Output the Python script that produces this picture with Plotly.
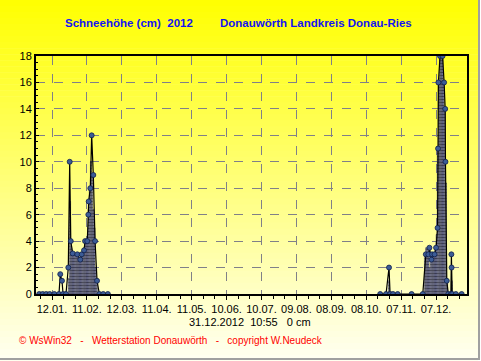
import plotly.graph_objects as go

# ---------------- data ----------------
line_times = [
    "2012-01-01", "2012-01-04", "2012-01-07", "2012-01-10", "2012-01-14", "2012-01-18",
    "2012-01-19 02:00", "2012-01-20 14:00", "2012-01-21 12:00", "2012-01-24",
    "2012-01-26 00:00", "2012-01-27 05:00", "2012-01-28 03:00", "2012-01-29 19:00",
    "2012-02-02 17:00", "2012-02-05 07:00", "2012-02-06 12:00", "2012-02-08 12:00",
    "2012-02-09 10:00", "2012-02-11 07:00", "2012-02-12 05:00", "2012-02-12 12:00",
    "2012-02-13 22:00", "2012-02-15 02:00", "2012-02-16 12:00", "2012-02-18 00:00",
    "2012-02-19 17:00", "2012-02-21 17:00", "2012-02-25", "2012-02-29",
    None,
    "2012-10-20", "2012-10-25", "2012-10-27 14:00", "2012-10-28 12:00", "2012-10-31",
    "2012-11-04", "2012-11-16", "2012-11-25 14:00",
    "2012-11-28 05:00", "2012-11-30 10:00", "2012-12-01 07:00", "2012-12-03 00:00",
    "2012-12-03 14:00", "2012-12-05 17:00", "2012-12-07 00:00", "2012-12-08 07:00",
    "2012-12-08 17:00", "2012-12-09 00:00", "2012-12-10 10:00", "2012-12-12 14:00",
    "2012-12-13 22:00", "2012-12-14 20:00", "2012-12-15 02:00", "2012-12-16 05:00",
    "2012-12-17 12:00", "2012-12-19 18:00", "2012-12-20 04:00", "2012-12-20 08:00",
    "2012-12-20 20:00", "2012-12-24", "2012-12-29",
]
line_values = [
    0, 0, 0, 0, 0, 0,
    1.5, 1.0, 0, 0,
    2.0, 10.0, 4.0, 3.07,
    3.0, 2.6, 3.0, 3.3,
    4.0, 4.0, 6.0, 7.0,
    8.0, 12.0, 9.0, 4.0,
    1.0, 0, 0, 0,
    None,
    0, 0, 2.0, 0, 0,
    0, 0, 0,
    3.0, 3.0, 3.5, 2.6,
    3.0, 3.0, 3.5, 5.0,
    11.0, 16.0, 18.0, 18.0,
    16.0, 14.0, 10.0, 1.0,
    0, 0, 3.0, 2.0,
    0, 0, 0,
]

bar_dates = [
    "2012-01-26", "2012-01-27", "2012-01-28", "2012-01-29", "2012-01-30", "2012-01-31",
    "2012-02-01", "2012-02-02", "2012-02-03", "2012-02-04", "2012-02-05", "2012-02-06",
    "2012-02-07", "2012-02-08", "2012-02-09", "2012-02-10", "2012-02-11", "2012-02-12",
    "2012-02-13", "2012-02-14", "2012-02-15", "2012-02-16", "2012-02-17", "2012-02-18",
    "2012-02-19",
    "2012-10-27",
    "2012-11-27", "2012-11-28", "2012-11-29", "2012-11-30", "2012-12-01", "2012-12-02",
    "2012-12-03", "2012-12-04", "2012-12-05", "2012-12-06", "2012-12-07", "2012-12-08",
    "2012-12-09", "2012-12-10", "2012-12-11", "2012-12-12", "2012-12-13", "2012-12-14",
    "2012-12-15", "2012-12-16", "2012-12-20",
]
bar_values = [
    1.2, 7.0, 3.5, 3.2, 3.0, 3.0,
    3.0, 3.0, 2.8, 2.6, 2.6, 3.0,
    3.2, 3.5, 4.0, 4.0, 4.0, 6.4,
    8.0, 10.0, 9.0, 6.4, 5.0, 2.0,
    1.0,
    1.0,
    3.0, 3.5, 3.5, 3.0, 2.0, 2.5,
    3.0, 3.0, 3.0, 3.5, 4.5, 11.0,
    16.0, 18.0, 18.0, 18.0, 16.0, 14.0,
    8.4, 1.0, 1.0,
]

tick_dates = ["2012-01-12", "2012-02-11", "2012-03-12", "2012-04-11", "2012-05-11",
              "2012-06-10", "2012-07-10", "2012-08-09", "2012-09-08", "2012-10-08",
              "2012-11-07", "2012-12-07"]
y_ticks = [0, 2, 4, 6, 8, 10, 12, 14, 16, 18]

title_left = "Schneehöhe (cm)\u00a0 2012"
title_right = "Donauwörth Landkreis Donau-Ries"
status_text = "31.12.2012\u00a0\u00a010:55\u00a0\u00a0\u00a00 cm"
footer_text = ("© WsWin32\u00a0\u00a0\u00a0-\u00a0\u00a0\u00a0Wetterstation Donauwörth"
               "\u00a0\u00a0\u00a0-\u00a0\u00a0\u00a0copyright W.Neudeck")

# ---------------- layout geometry ----------------
W, H = 481, 361
L, R, T, B = 36, 14, 56, 67
pw, ph = W - L - R, H - T - B


def px(x):
    return (x - L) / pw


def py(y):
    return (H - B - y) / ph


FONT = "Liberation Sans, Arial, sans-serif"

fig = go.Figure()

fig.add_trace(go.Bar(
    x=bar_dates, y=bar_values,
    xperiod=86400000, xperiodalignment="middle",
    width=86400000,
    marker=dict(color="#a0a4c4",
                line=dict(width=0.4, color="#202040"),
                pattern=dict(shape="-", fgcolor="#000000", size=3, solidity=0.45)),
    hoverinfo="skip", showlegend=False,
))

fig.add_trace(go.Scatter(
    x=line_times, y=line_values, mode="lines+markers",
    line=dict(color="#000000", width=1.2),
    marker=dict(symbol="circle", size=5, color="#3c5c96",
                line=dict(color="#10204a", width=0.8)),
    connectgaps=False, showlegend=False,
))

# gradient background (yellow -> pale)
shapes = []
n = 60
for i in range(n):
    y0 = i * H / n
    y1 = (i + 1) * H / n + 0.6
    f = (i + 0.5) / n
    b = int(round(0 + 242 * f))
    shapes.append(dict(type="rect", xref="paper", yref="paper", layer="below",
                       x0=px(0), x1=px(478), y0=py(y1), y1=py(y0),
                       fillcolor=f"rgb(255,255,{b})", line=dict(width=0)))
# grey border right & bottom
shapes.append(dict(type="line", xref="paper", yref="paper", layer="below",
                   x0=px(479), x1=px(479), y0=py(0), y1=py(359),
                   line=dict(color="#a0a0a0", width=2)))
shapes.append(dict(type="line", xref="paper", yref="paper", layer="below",
                   x0=px(0), x1=px(480), y0=py(359), y1=py(359),
                   line=dict(color="#a0a0a0", width=2)))

annotations = [
    dict(text=f"<b>{title_left}</b>", xref="paper", yref="paper", x=px(63), y=py(23),
         xanchor="left", yanchor="middle", showarrow=False,
         font=dict(family=FONT, size=11.5, color="#1414f0")),
    dict(text=f"<b>{title_right}</b>", xref="paper", yref="paper", x=px(218), y=py(23),
         xanchor="left", yanchor="middle", showarrow=False,
         font=dict(family=FONT, size=11.5, color="#1414f0")),
    dict(text=status_text, xref="paper", yref="paper", x=px(250), y=py(322),
         xanchor="center", yanchor="middle", showarrow=False,
         font=dict(family=FONT, size=11, color="#000000")),
    dict(text=footer_text, xref="paper", yref="paper", x=px(17), y=py(340),
         xanchor="left", yanchor="middle", showarrow=False,
         font=dict(family=FONT, size=10, color="#ff0000")),
]

fig.update_layout(
    width=W, height=H,
    margin=dict(l=L, r=R, t=T, b=B, pad=0),
    paper_bgcolor="#ffffff", plot_bgcolor="rgba(0,0,0,0)",
    bargap=0, barmode="overlay",
    shapes=shapes, annotations=annotations,
    font=dict(family=FONT, size=11, color="#000000"),
    xaxis=dict(
        type="date", range=["2011-12-29 06:00", "2013-01-02 14:00"],
        tickvals=tick_dates, tickformat="%d.%m.",
        showgrid=True, gridcolor="#808088", gridwidth=1, griddash="dash",
        showline=True, linecolor="#000000", linewidth=2, mirror=True,
        ticks="outside", ticklen=4, tickcolor="#000000",
        minor=dict(ticks="outside", ticklen=3, tickcolor="#000000",
                   dtick=10 * 86400000, tick0="2012-01-02", showgrid=False),
        tickfont=dict(family=FONT, size=11, color="#000000"),
        zeroline=False, fixedrange=True,
    ),
    yaxis=dict(
        range=[0, 18], tickvals=y_ticks,
        showgrid=True, gridcolor="#808088", gridwidth=1, griddash="dash",
        showline=True, linecolor="#000000", linewidth=2, mirror=True,
        ticks="inside", ticklen=3, tickcolor="#000000",
        minor=dict(ticks="inside", ticklen=2, tickcolor="#000000", dtick=0.5,
                   showgrid=False),
        tickfont=dict(family=FONT, size=11, color="#000000"),
        zeroline=False, fixedrange=True,
    ),
)

fig.write_html("out.html",
               config={"displayModeBar": False, "staticPlot": True},
               post_script="document.body.style.margin='0';document.body.style.overflow='hidden';")
